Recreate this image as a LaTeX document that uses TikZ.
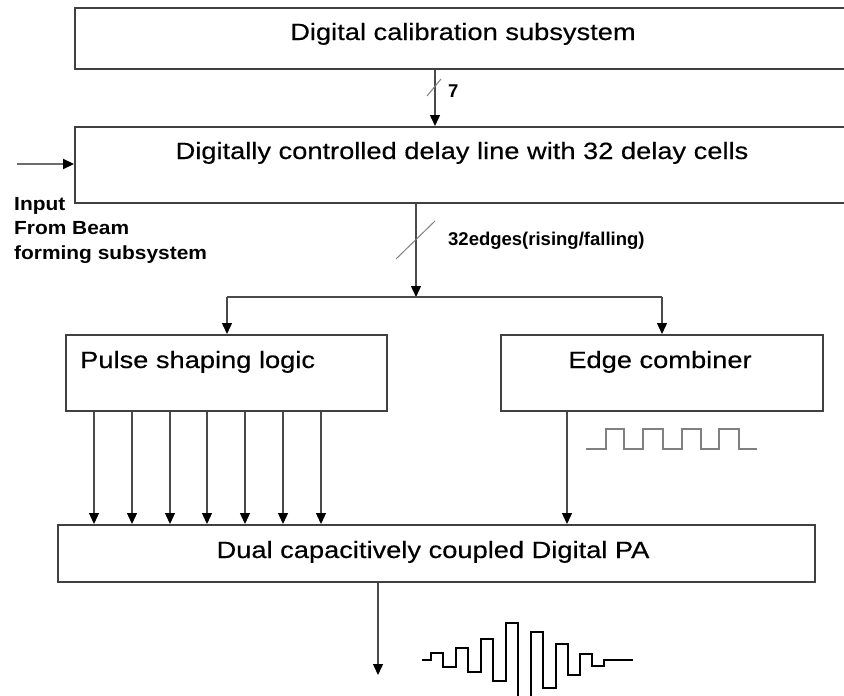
\documentclass[tikz,border=0pt]{standalone}
\usepackage{fontspec}
\setmainfont{Liberation Sans}
\newfontfamily\boxfont[FakeStretch=1.16,FakeBold=0.4]{Liberation Sans}
\newfontfamily\lblfont[FakeStretch=1.1]{Liberation Sans}
\usetikzlibrary{arrows.meta}
\definecolor{edgegray}{HTML}{404040}
\definecolor{wiregray}{HTML}{4A4A4A}
\definecolor{wavegray}{HTML}{808080}
\begin{document}
\begin{tikzpicture}[x=1pt,y=-1pt,
  blk/.style={draw=edgegray,line width=1.8pt,fill=white,inner sep=0pt,anchor=north west},
  blktext/.style={font=\boxfont\fontsize{23.5}{26}\selectfont,inner sep=0pt},
  tag/.style={font=\bfseries\fontsize{18.5}{20}\selectfont,inner sep=0pt,anchor=base west},
  inlbl/.style={font=\lblfont\bfseries\fontsize{19}{24}\selectfont,inner sep=0pt,anchor=base west},
  wire/.style={draw=wiregray,line width=1.4pt},
  arr/.style={wire,-{Triangle[length=11pt,width=10pt,color=black]}},
  slash/.style={draw=wavegray,line width=1pt},
]
\useasboundingbox (0,0) rectangle (844,696);
\clip (0,0) rectangle (844,696);

% blocks
\node[blk,minimum width=790,minimum height=61] (cal) at (74,7) {};
\node[blk,minimum width=790,minimum height=76] (dl) at (74,126) {};
\node[blk,minimum width=321,minimum height=76] (psl) at (65,334) {};
\node[blk,minimum width=322,minimum height=76] (ec) at (500,334) {};
\node[blk,minimum width=757,minimum height=57] (pa) at (57,524) {};

% block captions
\node[blktext,anchor=base] (calt) at (463,40) {Digital calibration subsystem};
\node[blktext,anchor=base] (dlt) at (462,159) {Digitally controlled delay line with 32 delay cells};
\node[blktext,anchor=base west] (pslt) at (80,368) {Pulse shaping logic};
\node[blktext,anchor=base] (ect) at (660,368) {Edge combiner};
\node[blktext,anchor=base] (pat) at (433,558) {Dual capacitively coupled Digital PA};

% calibration bus (7 bits)
\coordinate (xcal) at (435,0);
\draw[arr] (xcal |- cal.south) -- (xcal |- dl.north);
\coordinate (s7a) at (427,96);
\coordinate (s7b) at (441,79);
\draw[slash] (s7a) -- (s7b);
\node[tag] (n7) at (448,97) {7};

% external input
\coordinate (inp) at (17,164);
\draw[draw=wavegray!85!black,line width=2.2pt,-{Triangle[length=11pt,width=10pt,color=black]}] (inp) -- (inp -| dl.west);
\node[inlbl] (in1) at (14,210) {Input};
\node[inlbl] (in2) at (14,234.5) {From Beam};
\node[inlbl] (in3) at (14,259) {forming subsystem};

% edge bus to splitter
\coordinate (xdl) at (416,0);
\coordinate (split) at (416,297);
\draw[arr] (xdl |- dl.south) -- (split);
\coordinate (s32a) at (396,259);
\coordinate (s32b) at (435,221);
\draw[slash] (s32a) -- (s32b);
\node[tag] (n32) at (448,245) {32edges(rising/falling)};

% splitter to the two blocks
\coordinate (spl) at (227,297);
\coordinate (spr) at (662,297);
\draw[wire] (spl) -- (spr);
\draw[arr] (spl) -- (spl |- psl.north);
\draw[arr] (spr) -- (spr |- ec.north);

% seven control lines into the PA
\foreach \xx [count=\i] in {94,132,170,207,245,283,321}{
  \coordinate (c\i) at (\xx,0);
  \draw[arr] (c\i |- psl.south) -- (c\i |- pa.north);
}

% combined clock into the PA
\coordinate (xec) at (567,0);
\draw[arr] (xec |- ec.south) -- (xec |- pa.north);

% clock waveform
\draw[draw=wavegray,line width=1.8pt]
  (586,449) -- (606,449) -- (606,429) -- (624,429) -- (624,449)
  -- (643,449) -- (643,429) -- (663,429) -- (663,449)
  -- (682,449) -- (682,429) -- (701,429) -- (701,449)
  -- (719,449) -- (719,429) -- (739,429) -- (739,449) -- (757,449);

% PA output
\coordinate (out) at (378,675);
\draw[arr] (out |- pa.south) -- (out);

% output pulse
\draw[black,line width=1.9pt,line join=miter]
  (422,660) -- (431,660) -- (431,653) -- (443,653) -- (443,667)
  -- (456,667) -- (456,648) -- (468,648) -- (468,672)
  -- (481,672) -- (481,639) -- (493,639) -- (493,681)
  -- (506,681) -- (506,623) -- (518,623) -- (518,705)
  -- (531,705) -- (531,632) -- (543,632) -- (543,688)
  -- (556,688) -- (556,644) -- (568,644) -- (568,675)
  -- (580,675) -- (580,654) -- (592,654) -- (592,666)
  -- (604,666) -- (604,660) -- (633,660);
\end{tikzpicture}
\end{document}
